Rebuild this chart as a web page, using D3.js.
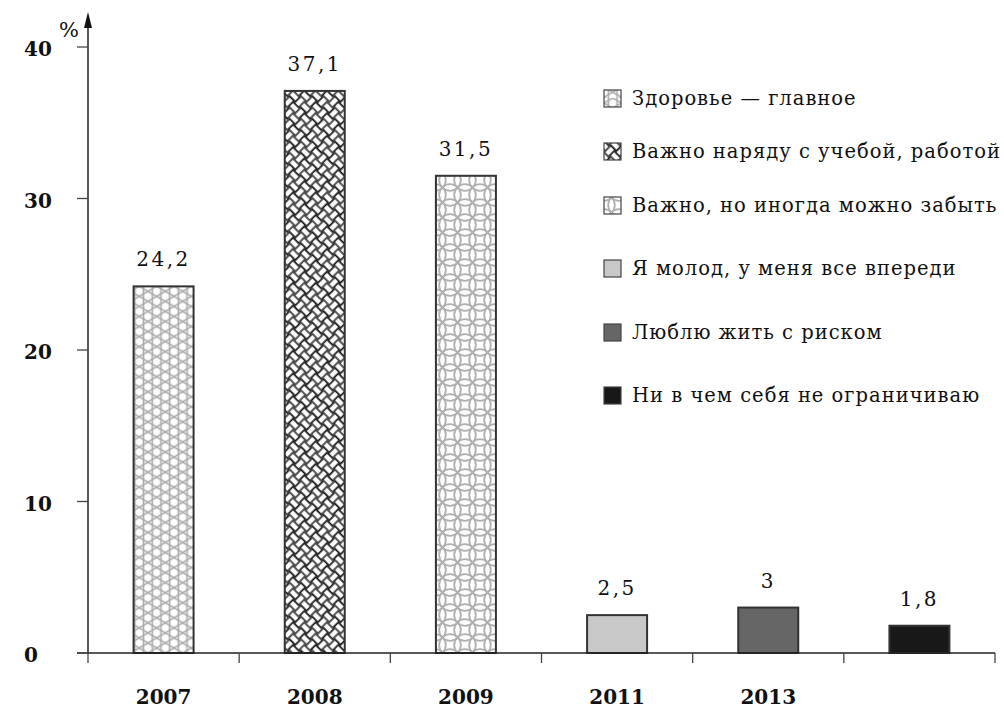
<!DOCTYPE html>
<html><head><meta charset="utf-8">
<script src="https://cdn.jsdelivr.net/npm/d3@7"></script>
<style>body{margin:0;background:#fff}svg{display:block}</style>
</head><body>
<svg id="c" width="1004" height="709"></svg>
<script>
const categories = ["2007","2008","2009","2011","2013",""];
const values = [24.2,37.1,31.5,2.5,3,1.8];
const valueLabels = ["24,2","37,1","31,5","2,5","3","1,8"];
const legendLabels = ["Здоровье — главное","Важно наряду с учебой, работой","Важно, но иногда можно забыть","Я молод, у меня все впереди","Люблю жить с риском","Ни в чем себя не ограничиваю"];
const yTicks = [0,10,20,30,40];
const fills = ["url(#p1)","url(#p2)","url(#p3)","#c8c8c8","#666666","#181818"];

const svg = d3.select("#c");
const serif = "'DejaVu Serif', serif";
const defs = svg.append("defs");

// pattern 1: triangular lattice
function stripe(id, period, angle, color, w){
  const p = defs.append("pattern").attr("id",id).attr("patternUnits","userSpaceOnUse")
    .attr("width",period).attr("height",period).attr("patternTransform",`rotate(${angle})`);
  p.append("line").attr("x1",period/2).attr("x2",period/2).attr("y1",-1).attr("y2",period+1)
    .attr("stroke",color).attr("stroke-width",w);
}
stripe("s0",8.7,0,"#aaa",1.6);
stripe("s60",8.7,60,"#aaa",1.6);
stripe("s120",8.7,120,"#aaa",1.6);
const p1 = defs.append("pattern").attr("id","p1").attr("patternUnits","userSpaceOnUse").attr("width",1004).attr("height",709);
p1.append("rect").attr("width",1004).attr("height",709).attr("fill","#fff");
["s0","s60","s120"].forEach(s=>p1.append("rect").attr("width",1004).attr("height",709).attr("fill",`url(#${s})`));

// pattern 2: weave
const q = 8;
const p2 = defs.append("pattern").attr("id","p2").attr("patternUnits","userSpaceOnUse")
  .attr("width",2*q).attr("height",2*q).attr("patternTransform","rotate(45)");
p2.append("rect").attr("width",2*q).attr("height",2*q).attr("fill","#999");
[[0,0,"h"],[q,q,"h"],[q,0,"v"],[0,q,"v"]].forEach(([x,y,o])=>{
  if(o==="h"){
    p2.append("rect").attr("x",x-0.5).attr("y",y+1).attr("width",q+1).attr("height",q-2).attr("fill","#fff").attr("stroke","#111").attr("stroke-width",1.2);
  } else {
    p2.append("rect").attr("x",x+1).attr("y",y-0.5).attr("width",q-2).attr("height",q+1).attr("fill","#fff").attr("stroke","#111").attr("stroke-width",1.2);
  }
});

// pattern 3: interlocking circles
const cs = 15;
const p3 = defs.append("pattern").attr("id","p3").attr("patternUnits","userSpaceOnUse")
  .attr("width",cs).attr("height",cs);
p3.append("rect").attr("width",cs).attr("height",cs).attr("fill","#fff");
[[0,0],[cs,0],[0,cs],[cs,cs]].forEach(([x,y])=>{
  p3.append("circle").attr("cx",x).attr("cy",y).attr("r",cs*0.72).attr("fill","none").attr("stroke","#b0b0b0").attr("stroke-width",1.8);
});

const x = d3.scaleBand().domain(d3.range(categories.length)).range([88,995]).padding(0);
const y = d3.scaleLinear().domain([0,40]).range([653,47]);
const barW = 60;

// bars
svg.append("g").selectAll("rect").data(values).join("rect")
  .attr("x",(d,i)=>x(i)+x.bandwidth()/2-barW/2)
  .attr("y",d=>y(d)).attr("width",barW).attr("height",d=>y(0)-y(d))
  .attr("fill",(d,i)=>fills[i]).attr("stroke","#333").attr("stroke-width",2);

// value labels
svg.append("g").selectAll("text").data(values).join("text")
  .attr("x",(d,i)=>x(i)+x.bandwidth()/2).attr("y",d=>y(d)-20)
  .attr("text-anchor","middle").attr("font-family",serif).attr("font-size",20).attr("letter-spacing",2.5).attr("fill","#111")
  .text((d,i)=>valueLabels[i]);

// x axis
svg.append("line").attr("x1",77).attr("x2",995).attr("y1",653).attr("y2",653).attr("stroke","#222").attr("stroke-width",1.5);
const xt = d3.range(categories.length+1).map(i=>88+i*x.bandwidth());
svg.append("g").selectAll("line").data(xt).join("line")
  .attr("x1",d=>d).attr("x2",d=>d).attr("y1",653).attr("y2",663).attr("stroke","#444").attr("stroke-width",1.3);
svg.append("g").selectAll("text").data(categories).join("text")
  .attr("x",(d,i)=>x(i)+x.bandwidth()/2).attr("y",704)
  .attr("text-anchor","middle").attr("font-family",serif).attr("font-weight","bold").attr("font-size",20).attr("fill","#111")
  .text(d=>d);

// y axis
svg.append("line").attr("x1",88).attr("x2",88).attr("y1",22).attr("y2",653).attr("stroke","#222").attr("stroke-width",1.5);
svg.append("path").attr("d","M88,12 L84,28 L92,28 Z").attr("fill","#111");
svg.append("g").selectAll("line").data(yTicks).join("line")
  .attr("x1",77).attr("x2",88).attr("y1",d=>y(d)).attr("y2",d=>y(d)).attr("stroke","#444").attr("stroke-width",1.3);
svg.append("g").selectAll("text").data(yTicks).join("text")
  .attr("x",24).attr("y",d=>y(d)+9)
  .attr("font-family",serif).attr("font-weight","bold").attr("font-size",20).attr("fill","#111")
  .text(d=>d);
svg.append("text").attr("x",59).attr("y",37).attr("font-family",serif).attr("font-size",21).attr("fill","#111").text("%");

// legend
const legY = [98,151,205,268,332,395];
const lg = svg.append("g").selectAll("g").data(legendLabels).join("g")
  .attr("transform",(d,i)=>`translate(604,${legY[i]})`);
lg.append("rect").attr("x",0).attr("y",-8).attr("width",17).attr("height",17)
  .attr("fill",(d,i)=>fills[i]).attr("stroke","#444").attr("stroke-width",1.2);
lg.append("text").attr("x",28).attr("y",7).attr("font-family",serif).attr("font-size",19.5).attr("letter-spacing",1.0).attr("fill","#111").text(d=>d);
</script>
</body></html>
